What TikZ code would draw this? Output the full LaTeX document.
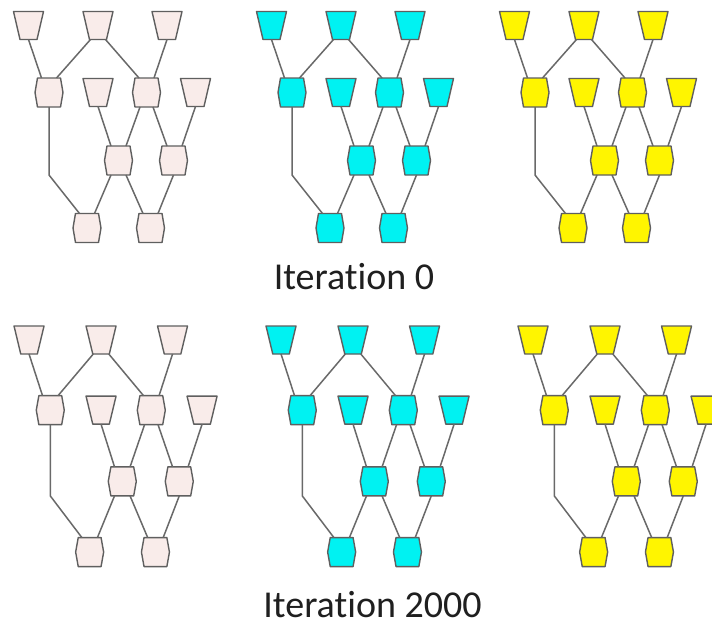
\documentclass[tikz,border=0pt]{standalone}
\usepackage{fontspec}
\setmainfont{Carlito}[Ligatures=NoCommon]
\definecolor{pinkf}{RGB}{249,236,234}
\definecolor{cyanf}{RGB}{0,242,242}
\definecolor{yellf}{RGB}{255,245,0}
\definecolor{bord}{RGB}{95,95,95}
\definecolor{edgec}{RGB}{105,105,105}
\tikzset{
  nbox/.style={rectangle,draw=none,inner sep=0pt,outer sep=0pt},
  shp/.style={draw=bord,line width=1.4pt,line join=round},
  edge/.style={draw=edgec,line width=1.5pt},
  lbl/.style={font=\fontsize{38}{40}\selectfont,text=black!88,anchor=base,inner sep=0pt}
}
\newcommand\tz[3]{%
  \node[nbox,minimum width=30pt,minimum height=28pt] (#1) at (#2) {};
  \filldraw[shp,fill=#3] (#1.north west) -- (#1.north east) -- ([xshift=-6.5pt]#1.south east) -- ([xshift=6.5pt]#1.south west) -- cycle;}
\newcommand\hx[3]{%
  \node[nbox,minimum width=28pt,minimum height=29pt] (#1) at (#2) {};
  \filldraw[shp,fill=#3] ([xshift=2.5pt]#1.north west) -- ([xshift=-2.5pt]#1.north east) -- (#1.east) -- ([xshift=-2.5pt]#1.south east) -- ([xshift=2.5pt]#1.south west) -- (#1.west) -- cycle;}
\newcommand\mypanel[2]{%
  \tz{#1t1}{28.5,25.5}{#2}
  \tz{#1t2}{98,25.5}{#2}
  \tz{#1t3}{167,25.5}{#2}
  \hx{#1h1}{49,92.5}{#2}
  \tz{#1t4}{98,92.5}{#2}
  \hx{#1h2}{146.5,92.5}{#2}
  \tz{#1t5}{195.5,92.5}{#2}
  \hx{#1h3}{118.5,160.5}{#2}
  \hx{#1h4}{173.5,160.5}{#2}
  \hx{#1h5}{87,228}{#2}
  \hx{#1h6}{150.5,228}{#2}
  \draw[edge] (#1t1.south) -- ([xshift=-7.5pt]#1h1.north);
  \draw[edge] ([xshift=-7.5pt]#1t2.south) -- ([xshift=7.5pt]#1h1.north);
  \draw[edge] ([xshift=7.5pt]#1t2.south) -- ([xshift=-7.5pt]#1h2.north);
  \draw[edge] (#1t3.south) -- ([xshift=7.5pt]#1h2.north);
  \draw[edge] (#1h1.south) -- (#1h1.south |- #1h3.south) -- ([xshift=-7.5pt]#1h5.north);
  \draw[edge] (#1t4.south) -- ([xshift=-7.5pt]#1h3.north);
  \draw[edge] ([xshift=-6.5pt]#1h2.south) -- ([xshift=7.5pt]#1h3.north);
  \draw[edge] ([xshift=6.5pt]#1h2.south) -- ([xshift=-6.5pt]#1h4.north);
  \draw[edge] (#1t5.south) -- ([xshift=8.5pt]#1h4.north);
  \draw[edge] ([xshift=-7.5pt]#1h3.south) -- ([xshift=7.5pt]#1h5.north);
  \draw[edge] ([xshift=7.5pt]#1h3.south) -- ([xshift=-7.5pt]#1h6.north);
  \draw[edge] (#1h4.south) -- ([xshift=7.5pt]#1h6.north);
}
\begin{document}
\begin{tikzpicture}[x=1pt,y=-1pt]
\useasboundingbox (0,0) rectangle (712,626);
\clip (0,0) rectangle (712,626);
\fill[white] (0,0) rectangle (712,626);
\begin{scope}[shift={(0,0)}]\mypanel{a}{pinkf}\end{scope}
\begin{scope}[shift={(243,0)}]\mypanel{b}{cyanf}\end{scope}
\begin{scope}[shift={(486,0)}]\mypanel{c}{yellf}\end{scope}
\begin{scope}[shift={(-0.5,313.3)},xscale=1.036,yscale=1.047]\mypanel{d}{pinkf}\end{scope}
\begin{scope}[shift={(251.5,313.3)},xscale=1.036,yscale=1.047]\mypanel{e}{cyanf}\end{scope}
\begin{scope}[shift={(503.5,313.3)},xscale=1.036,yscale=1.047]\mypanel{f}{yellf}\end{scope}
\node[lbl] (it0) at (354,289) {Iteration 0};
\node[lbl] (it2000) at (372.5,617) {Iteration 2000};
\end{tikzpicture}
\end{document}
